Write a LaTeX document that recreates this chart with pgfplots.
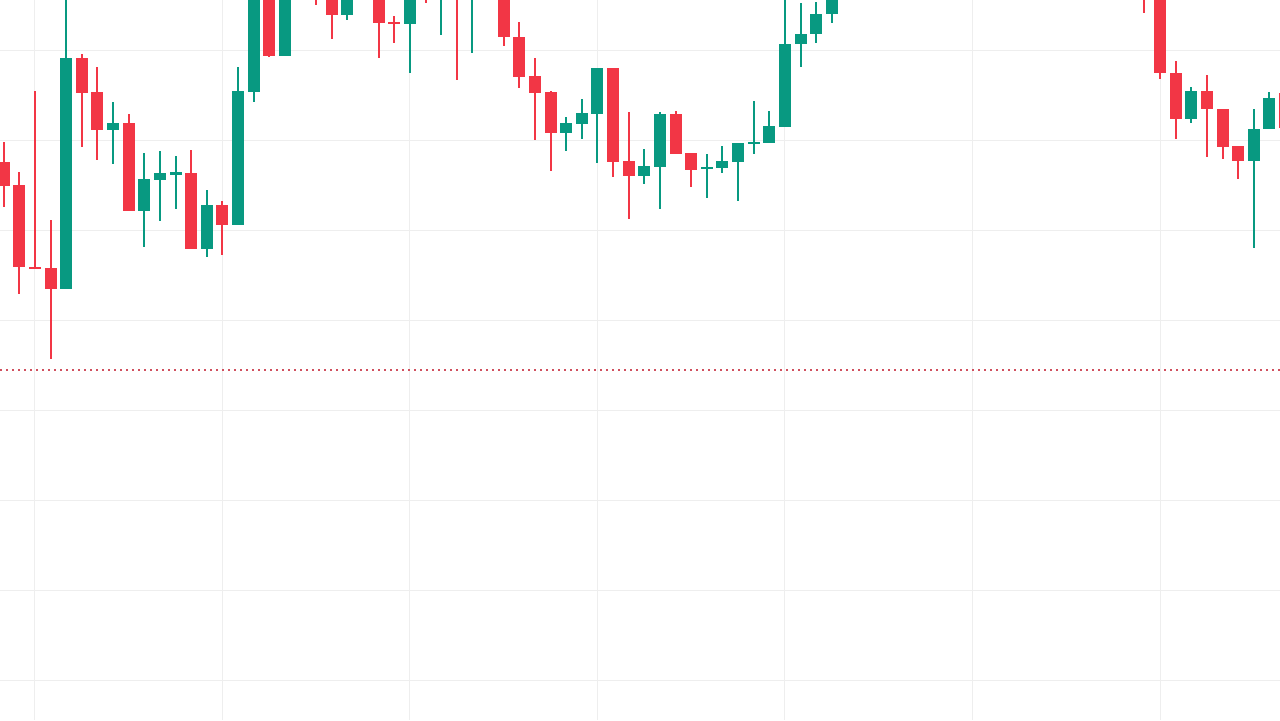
\documentclass[border=0pt]{standalone}
\usepackage{pgfplots}
\usepackage{pgfplotstable}
\pgfplotsset{compat=1.18}
\definecolor{cgreen}{HTML}{089981}
\definecolor{cred}{HTML}{F23645}
\definecolor{cgrid}{HTML}{EEEEEE}
\definecolor{cdot}{HTML}{D0505E}
% candle data: i open high low close (price scale runs downward: y dir=reverse)
\pgfplotstableread{
i o h l c
4 289 -20 289 58
7 130 102 164 123
9 211 153 247 179
10 180 151 221 173
11 175 156 209 172
13 249 190 257 205
15 225 67 225 91
16 92 -20 102 -10
18 56 -30 56 -20
22 15 -25 20 -12
26 24 -25 73 -15
28 -5 -40 35 -30
30 -3 -50 53 -35
36 133 117 151 123
37 124 99 139 113
38 114 68 163 68
41 176 149 184 166
42 167 112 209 114
45 169 154 198 167
46 168 146 173 161
47 162 143 201 143
48 144 101 154 142
49 143 111 143 126
50 127 -10 127 44
51 44 3 67 34
52 34 2 43 14
53 14 -20 23 -8
76 119 87 123 91
80 161 109 248 129
81 129 92 129 98
}\greentab
\pgfplotstableread{
i o h l c
0 162 142 207 186
1 185 172 294 267
2 267 91 269 269
3 268 220 359 289
5 58 54 147 93
6 92 67 160 130
8 123 114 211 211
12 173 150 249 249
14 205 201 255 225
17 -15 -25 57 56
19 -25 -40 -5 -10
20 -30 -40 5 -5
21 -8 -20 39 15
23 -15 -30 -1 -2
24 -5 -15 58 23
25 22 16 43 24
27 -30 -45 3 -10
29 -30 -40 80 -5
31 -35 -50 -3 -10
32 -8 -20 46 37
33 37 22 88 77
34 76 58 140 93
35 92 91 171 133
39 68 68 177 162
40 161 112 219 176
43 114 111 154 154
44 153 153 187 170
73 -40 -50 13 -10
74 -10 -20 79 73
75 73 61 139 119
77 91 75 157 109
78 109 109 159 147
79 146 146 179 161
82 93 85 135 128
}\redtab
\begin{document}
\begin{tikzpicture}
\path[use as bounding box] (0,0) rectangle (640pt,360pt);
\begin{axis}[
  at={(0,0)}, anchor=south west,
  width=640pt, height=360pt, scale only axis,
  xmin=-0.2368, xmax=81.68,
  ymin=0, ymax=720, y dir=reverse,
  axis line style={draw=none},
  tick style={draw=none},
  xtick={2,14,...,74}, ytick={50,140,...,680},
  xticklabels={}, yticklabels={},
  grid=major,
  major grid style={draw=cgrid, line width=0.5pt},
  clip=true,
]
% last price line
\addplot[cdot, line width=0.9pt, dash pattern=on 1pt off 2pt] coordinates {(-1,370) (83,370)};
% wicks
\addplot[draw=none, mark=none, error bars/.cd, y dir=plus, y explicit, error mark=none,
  error bar style={draw=cgreen, line width=1pt}]
  table[x=i, y=h, y error plus expr=\thisrow{l}-\thisrow{h}] {\greentab};
\addplot[draw=none, mark=none, error bars/.cd, y dir=plus, y explicit, error mark=none,
  error bar style={draw=cred, line width=1pt}]
  table[x=i, y=h, y error plus expr=\thisrow{l}-\thisrow{h}] {\redtab};
% bodies
\addplot[draw=none, mark=none, error bars/.cd, y dir=plus, y explicit, error mark=none,
  error bar style={draw=cgreen, line width=6pt}]
  table[x=i, y=c, y error plus expr=\thisrow{o}-\thisrow{c}] {\greentab};
\addplot[draw=none, mark=none, error bars/.cd, y dir=plus, y explicit, error mark=none,
  error bar style={draw=cred, line width=6pt}]
  table[x=i, y=o, y error plus expr=\thisrow{c}-\thisrow{o}] {\redtab};
\end{axis}
\end{tikzpicture}
\end{document}
